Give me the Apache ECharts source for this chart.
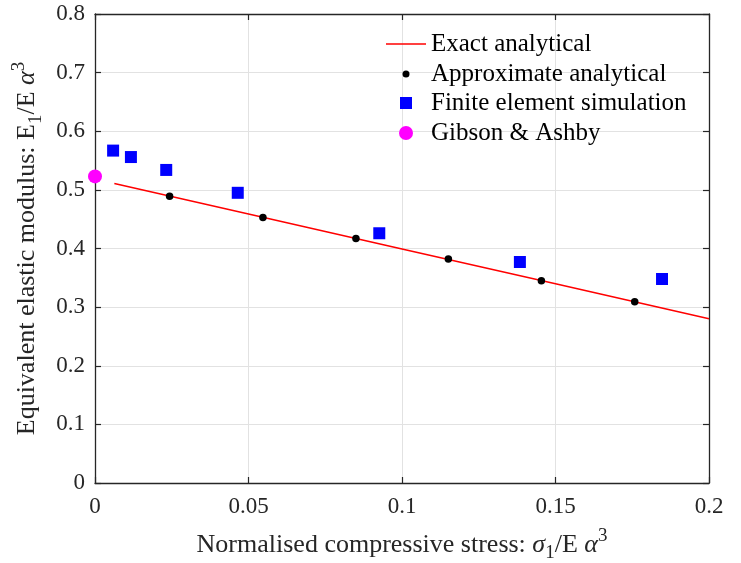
<!DOCTYPE html>
<html>
<head>
<meta charset="utf-8">
<script src="https://cdn.jsdelivr.net/npm/echarts@6/dist/echarts.min.js"></script>
<style>
  html, body { margin: 0; padding: 0; background: #ffffff; }
  #chart { width: 741px; height: 563px; }
</style>
</head>
<body>
<div id="chart"></div>
<script>
// Axis ranges / tick steps
const xRange = [0, 0.2];
const xStep = 0.05;
const yRange = [0, 0.8];
const yStep = 0.1;

// Exact analytical solution (straight decreasing curve)
const exactX = [0.0063, 0.05, 0.1, 0.15, 0.2];
const exactY = [0.511, 0.459, 0.399, 0.340, 0.280];

// Approximate analytical points
const approxX = [0.0243, 0.0547, 0.085, 0.1151, 0.1454, 0.1758];
const approxY = [0.489, 0.453, 0.417, 0.382, 0.345, 0.309];

// Finite element simulation points
const feX = [0.0059, 0.0117, 0.0232, 0.0465, 0.0926, 0.1384, 0.1847];
const feY = [0.567, 0.556, 0.534, 0.495, 0.426, 0.377, 0.348];

// Gibson & Ashby value
const gaX = [0];
const gaY = [0.523];

const seriesNames = ['Exact analytical', 'Approximate analytical', 'Finite element simulation', 'Gibson & Ashby'];

const pairs = (xs, ys) => xs.map((x, i) => [x, ys[i]]);

const FONT = '"Liberation Serif", "Times New Roman", serif';
const AXIS_COLOR = '#262626';
const RED = '#ff0000';
const BLACK = '#000000';
const BLUE = '#0000ff';
const MAGENTA = '#ff00ff';

const nameRich = {
  t:   { fontFamily: FONT, fontSize: 26, color: AXIS_COLOR, lineHeight: 36 },
  i:   { fontFamily: FONT, fontSize: 26, color: AXIS_COLOR, lineHeight: 36, fontStyle: 'italic' },
  sub: { fontFamily: FONT, fontSize: 19, color: AXIS_COLOR, lineHeight: 19, verticalAlign: 'bottom' },
  sup: { fontFamily: FONT, fontSize: 19, color: AXIS_COLOR, lineHeight: 19, verticalAlign: 'top' }
};

function baseAxis(range, step) {
  return {
    type: 'value',
    min: range[0],
    max: range[1],
    interval: step,
    axisLine: { show: true, onZero: false, lineStyle: { color: AXIS_COLOR, width: 1.3 } },
    axisTick: { show: true, inside: true, length: 6, lineStyle: { color: AXIS_COLOR, width: 1.2 } },
    axisLabel: { show: true, fontFamily: FONT, fontSize: 23, color: AXIS_COLOR, margin: 10 },
    splitLine: { show: true, lineStyle: { color: '#e2e2e2', width: 1 } }
  };
}

function mirrorAxis(range, step, position) {
  const a = baseAxis(range, step);
  a.position = position;
  a.axisLabel = { show: false };
  a.splitLine = { show: false };
  return a;
}

const xMain = baseAxis(xRange, xStep);
xMain.position = 'bottom';
xMain.axisLabel.margin = 12;
xMain.axisLabel.formatter = v => String(+v.toFixed(2));
xMain.name = '{t|Normalised compressive stress: }{i|σ}{sub|1}{t|/E }{i|α}{sup|3}';
xMain.nameLocation = 'middle';
xMain.nameGap = 44;
xMain.nameTextStyle = { rich: nameRich };

const yMain = baseAxis(yRange, yStep);
yMain.position = 'left';
yMain.axisLabel.formatter = v => String(+v.toFixed(1));
yMain.name = '{t|Equivalent elastic modulus: E}{sub|1}{t|/E }{i|α}{sup|3}';
yMain.nameLocation = 'middle';
yMain.nameGap = 35;
yMain.nameTextStyle = { rich: nameRich };

// One legend block per entry so each key mark keeps its own size.
// The icon column is centred at x = 406 and the texts start at x = 431.
function legendFor(name, icon, iconSize, rowCenter) {
  const iconBoxW = 40;
  const iconLeftInBox = (iconBoxW - iconSize) / 2;
  return {
    data: [{ name: name, icon: icon }],
    orient: 'vertical',
    left: 386 + iconLeftInBox,
    top: rowCenter - 12,
    padding: 0,
    itemWidth: iconBoxW,
    itemHeight: Math.max(iconSize, 2),
    itemGap: 0,
    symbolKeepAspect: true,
    selectedMode: false,
    textStyle: { fontFamily: FONT, fontSize: 25, color: BLACK, lineHeight: 26 }
  };
}

const LINE_ICON = 'path://M0,0H40V1.5H0Z';
const SQUARE_ICON = 'path://M0,0H10V10H0Z';

const option = {
  animation: false,
  backgroundColor: '#ffffff',
  grid: { left: 95, right: 32, top: 14, bottom: 80, containLabel: false, outerBoundsMode: 'none' },
  xAxis: [xMain, mirrorAxis(xRange, xStep, 'top')],
  yAxis: [yMain, mirrorAxis(yRange, yStep, 'right')],
  legend: [
    legendFor(seriesNames[0], LINE_ICON, 40, 43),
    legendFor(seriesNames[1], 'circle', 7, 73),
    legendFor(seriesNames[2], SQUARE_ICON, 12, 102),
    legendFor(seriesNames[3], 'circle', 14, 132)
  ],
  series: [
    {
      name: seriesNames[0],
      type: 'line',
      data: pairs(exactX, exactY),
      symbol: 'none',
      lineStyle: { color: RED, width: 1.5 },
      itemStyle: { color: RED },
      z: 2
    },
    {
      name: seriesNames[1],
      type: 'scatter',
      data: pairs(approxX, approxY),
      symbol: 'circle',
      symbolSize: 7.5,
      itemStyle: { color: BLACK, opacity: 1 },
      clip: false,
      z: 3
    },
    {
      name: seriesNames[2],
      type: 'scatter',
      data: pairs(feX, feY),
      symbol: 'rect',
      symbolSize: 12,
      itemStyle: { color: BLUE, opacity: 1 },
      clip: false,
      z: 4
    },
    {
      name: seriesNames[3],
      type: 'scatter',
      data: pairs(gaX, gaY),
      symbol: 'circle',
      symbolSize: 14,
      itemStyle: { color: MAGENTA, opacity: 1 },
      clip: false,
      z: 5
    }
  ]
};

const chart = echarts.init(document.getElementById('chart'), null, { renderer: 'canvas' });
chart.setOption(option);
</script>
</body>
</html>
